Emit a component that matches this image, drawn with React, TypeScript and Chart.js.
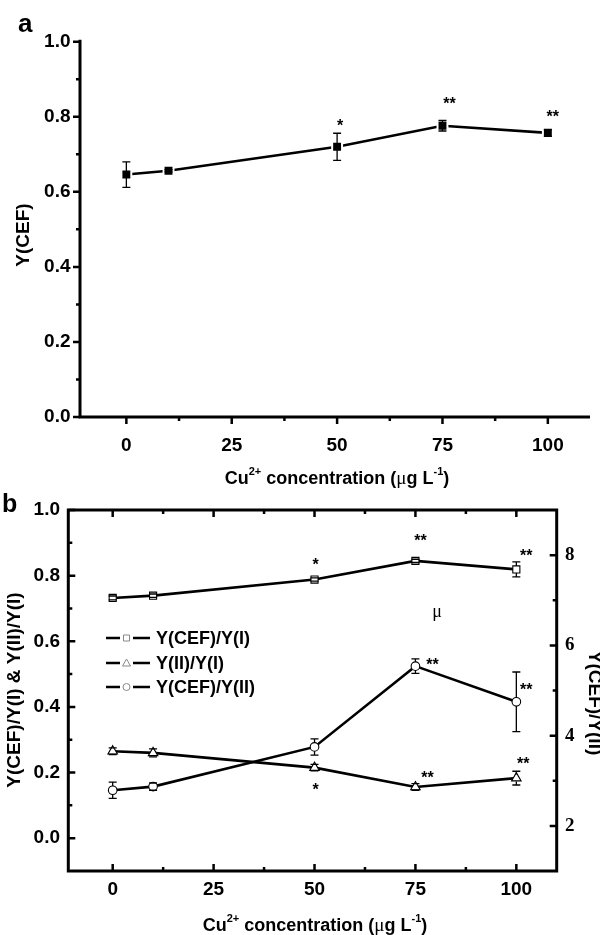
import React, { useEffect, useRef } from 'react';
import { Chart, registerables } from 'chart.js';

Chart.register(...registerables);

// ---------------- data ----------------
const concentrations = [0, 10, 50, 75, 100];

// panel a
const yCEF = [0.646, 0.656, 0.72, 0.776, 0.757];
const yCEFErr = [0.034, 0.003, 0.036, 0.014, 0.009];
const yCEFStars = ['', '', '*', '**', '**'];

// panel b
const cefOverI = [0.732, 0.739, 0.788, 0.845, 0.819];
const cefOverIErr = [0.006, 0.005, 0.005, 0.005, 0.023];
const cefOverIStars = ['', '', '*', '**', '**'];

const iiOverI = [0.265, 0.26, 0.215, 0.156, 0.183];
const iiOverIErr = [0.01, 0.012, 0.01, 0.01, 0.021];
const iiOverIStars = ['', '', '*', '**', '**'];

const cefOverII = [2.79, 2.87, 3.75, 5.54, 4.75];
const cefOverIIErr = [0.18, 0.08, 0.18, 0.16, 0.66];
const cefOverIIStars = ['', '', '', '**', '**'];

const legendLabels = ['Y(CEF)/Y(I)', 'Y(II)/Y(I)', 'Y(CEF)/Y(II)'];

// ticks
const xTickValues = [0, 25, 50, 75, 100];
const xMinorValues = [12.5, 37.5, 62.5, 87.5];
const yTicksA = [0, 0.2, 0.4, 0.6, 0.8, 1.0];
const yMinorA = [0.1, 0.3, 0.5, 0.7, 0.9];
const yTicksB = [0, 0.2, 0.4, 0.6, 0.8, 1.0];
const yMinorB = [0.1, 0.3, 0.5, 0.7, 0.9];
const y2TicksB = [2, 4, 6, 8];
const y2MinorB = [3, 5, 7];

// ---------------- styles ----------------
const SANS = '"Liberation Sans", Arial, Helvetica, sans-serif';
const SERIF = '"Liberation Serif", "Times New Roman", serif';

type Seg = { t: string; sup?: boolean; regular?: boolean };
const xTitleSegs: Seg[] = [
  { t: 'Cu' },
  { t: '2+', sup: true },
  { t: ' concentration (' },
  { t: 'μ', regular: true },
  { t: 'g L' },
  { t: '-1', sup: true },
  { t: ')' },
];

function drawSegs(ctx: CanvasRenderingContext2D, segs: Seg[], cx: number, cy: number, size: number) {
  const fontFor = (s: Seg) =>
    s.sup ? `bold ${Math.round(size * 0.62)}px ${SANS}` : s.regular ? `${size + 1}px ${SERIF}` : `bold ${size}px ${SANS}`;
  let total = 0;
  for (const s of segs) {
    ctx.font = fontFor(s);
    total += ctx.measureText(s.t).width;
  }
  let x = cx - total / 2;
  ctx.textAlign = 'left';
  ctx.textBaseline = 'alphabetic';
  const base = cy + size * 0.36;
  for (const s of segs) {
    ctx.font = fontFor(s);
    ctx.fillText(s.t, x, s.sup ? base - size * 0.5 : base);
    x += ctx.measureText(s.t).width;
  }
}

function drawRotated(ctx: CanvasRenderingContext2D, text: string, cx: number, cy: number, angle: number, font: string) {
  ctx.save();
  ctx.translate(cx, cy);
  ctx.rotate(angle);
  ctx.font = font;
  ctx.textAlign = 'center';
  ctx.textBaseline = 'middle';
  ctx.fillStyle = '#000';
  ctx.fillText(text, 0, 0);
  ctx.restore();
}

// axis frame + ticks
const framePlugin = {
  id: 'frame',
  beforeDatasetsDraw(chart: any, _a: any, opts: any) {
    const ctx: CanvasRenderingContext2D = chart.ctx;
    const { left, right, top, bottom } = chart.chartArea;
    const xs = chart.scales.x;
    const ys = chart.scales.y;
    const y2s = chart.scales.y2;
    const dir = opts.inward ? -1 : 1;
    const maj = opts.major;
    const min = opts.minor;
    ctx.save();
    ctx.strokeStyle = '#000';
    ctx.lineCap = 'butt';
    ctx.lineWidth = 3;
    ctx.beginPath();
    if (opts.box) {
      ctx.rect(left, top, right - left, bottom - top);
    } else {
      ctx.moveTo(left, top - 2);
      ctx.lineTo(left, bottom + 1.5);
      ctx.moveTo(left - 1.5, bottom);
      ctx.lineTo(right, bottom);
    }
    ctx.stroke();
    ctx.lineWidth = 2.5;
    ctx.beginPath();
    const xt = (vals: number[], len: number) => {
      vals.forEach((v) => {
        const px = xs.getPixelForValue(v);
        ctx.moveTo(px, bottom);
        ctx.lineTo(px, bottom + dir * len);
        if (opts.box) {
          ctx.moveTo(px, top);
          ctx.lineTo(px, top - dir * len);
        }
      });
    };
    const yt = (vals: number[], len: number, sc: any, side: 'l' | 'r') => {
      vals.forEach((v) => {
        const py = sc.getPixelForValue(v);
        if (side === 'l') {
          ctx.moveTo(left, py);
          ctx.lineTo(left - dir * len, py);
        } else {
          ctx.moveTo(right, py);
          ctx.lineTo(right + dir * len, py);
        }
      });
    };
    xt(xTickValues, maj);
    xt(xMinorValues, min);
    yt(opts.yMajor, maj, ys, 'l');
    yt(opts.yMinor, min, ys, 'l');
    if (opts.box && !y2s) {
      yt(opts.yMajor, maj, ys, 'r');
      yt(opts.yMinor, min, ys, 'r');
    }
    if (y2s) {
      yt(y2TicksB, maj, y2s, 'r');
      yt(y2MinorB, min, y2s, 'r');
    }
    ctx.stroke();
    ctx.restore();
  },
};

// error bars
const errorBarPlugin = {
  id: 'errorBars',
  afterDatasetsDraw(chart: any) {
    const ctx: CanvasRenderingContext2D = chart.ctx;
    chart.data.datasets.forEach((ds: any, i: number) => {
      if (!ds.errors) return;
      const meta = chart.getDatasetMeta(i);
      const sc = chart.scales[meta.yAxisID];
      const gap = ds.errGap || 0;
      ctx.save();
      ctx.strokeStyle = '#000';
      ctx.lineWidth = 1.3;
      meta.data.forEach((pt: any, j: number) => {
        const v = ds.data[j].y;
        const e = ds.errors[j];
        if (!e) return;
        const x = pt.x;
        const y = pt.y;
        const yTop = sc.getPixelForValue(v + e);
        const yBot = sc.getPixelForValue(v - e);
        ctx.beginPath();
        if (yTop < y - gap) {
          ctx.moveTo(x, yTop);
          ctx.lineTo(x, y - gap);
        }
        if (yBot > y + gap) {
          ctx.moveTo(x, y + gap);
          ctx.lineTo(x, yBot);
        }
        ctx.moveTo(x - 4, yTop);
        ctx.lineTo(x + 4, yTop);
        ctx.moveTo(x - 4, yBot);
        ctx.lineTo(x + 4, yBot);
        ctx.stroke();
      });
      ctx.restore();
    });
  },
};

// significance stars (offsets relative to the point, in px)
const starsPlugin = {
  id: 'stars',
  afterDraw(chart: any, _a: any, opts: any) {
    const ctx: CanvasRenderingContext2D = chart.ctx;
    const size = 16;
    ctx.save();
    ctx.fillStyle = '#000';
    ctx.font = `bold ${size}px ${SANS}`;
    ctx.textAlign = 'center';
    ctx.textBaseline = 'alphabetic';
    chart.data.datasets.forEach((ds: any, i: number) => {
      if (!ds.stars) return;
      const meta = chart.getDatasetMeta(i);
      const offs = opts.offsets[i];
      ds.stars.forEach((s: string, j: number) => {
        if (!s || !offs[j]) return;
        const pt = meta.data[j];
        const [dx, dy] = offs[j];
        ctx.fillText(s, pt.x + dx, pt.y + dy + size * 0.6);
      });
    });
    ctx.restore();
  },
};

const textAPlugin = {
  id: 'textA',
  afterDraw(chart: any) {
    const ctx: CanvasRenderingContext2D = chart.ctx;
    ctx.save();
    ctx.fillStyle = '#000';
    ctx.font = `bold 26px ${SANS}`;
    ctx.textAlign = 'left';
    ctx.textBaseline = 'alphabetic';
    ctx.fillText('a', 18, 32);
    drawRotated(ctx, 'Y(CEF)', 24, 235, -Math.PI / 2, `bold 19px ${SANS}`);
    drawSegs(ctx, xTitleSegs, 337, 478, 18);
    ctx.restore();
  },
};

const textBPlugin = {
  id: 'textB',
  afterDraw(chart: any) {
    const ctx: CanvasRenderingContext2D = chart.ctx;
    ctx.save();
    ctx.fillStyle = '#000';
    ctx.font = `bold 25px ${SANS}`;
    ctx.textAlign = 'left';
    ctx.textBaseline = 'alphabetic';
    ctx.fillText('b', 2, 22);
    drawRotated(ctx, 'Y(CEF)/Y(I) & Y(II)/Y(I)', 15, 200, -Math.PI / 2, `bold 19px ${SANS}`);
    drawRotated(ctx, 'Y(CEF)/Y(II)', 594, 213, Math.PI / 2, `bold 19px ${SANS}`);
    drawSegs(ctx, xTitleSegs, 315, 435, 18);
    // stray mu
    ctx.font = `18px ${SERIF}`;
    ctx.textAlign = 'center';
    ctx.textBaseline = 'middle';
    ctx.fillText('μ', 437, 122);
    // legend
    const rows = [148, 173, 197];
    const styles = ['rect', 'triangle', 'circle'];
    rows.forEach((ry, k) => {
      ctx.strokeStyle = '#000';
      ctx.lineWidth = 2.5;
      ctx.beginPath();
      ctx.moveTo(106, ry);
      ctx.lineTo(120, ry);
      ctx.moveTo(133, ry);
      ctx.lineTo(150, ry);
      ctx.stroke();
      ctx.strokeStyle = '#888';
      ctx.lineWidth = 1;
      ctx.beginPath();
      const mx = 126.5;
      if (styles[k] === 'rect') ctx.rect(mx - 3, ry - 3, 6, 6);
      else if (styles[k] === 'triangle') {
        ctx.moveTo(mx, ry - 4);
        ctx.lineTo(mx + 4, ry + 3);
        ctx.lineTo(mx - 4, ry + 3);
        ctx.closePath();
      } else ctx.arc(mx, ry, 3.5, 0, Math.PI * 2);
      ctx.stroke();
      ctx.fillStyle = '#000';
      ctx.font = `bold 18px ${SANS}`;
      ctx.textAlign = 'left';
      ctx.textBaseline = 'middle';
      ctx.fillText(legendLabels[k], 156, ry + 1);
    });
    ctx.restore();
  },
};

const tickFont = { family: SANS, size: 19, weight: 'bold' as const, lineHeight: 1 };

function setTicks(vals: number[]) {
  return (scale: any) => {
    scale.ticks = vals.map((v) => ({ value: v }));
  };
}

function toPts(ys: number[]) {
  return concentrations.map((x, i) => ({ x, y: ys[i] }));
}

export default function App() {
  const refA = useRef<HTMLCanvasElement>(null);
  const refB = useRef<HTMLCanvasElement>(null);

  useEffect(() => {
    const chartA = new Chart(refA.current as HTMLCanvasElement, {
      type: 'line',
      data: {
        datasets: [
          {
            data: toPts(yCEF),
            errors: yCEFErr,
            stars: yCEFStars,
            borderColor: '#000',
            borderWidth: 2.6,
            pointStyle: 'rect',
            pointRadius: 7,
            pointBackgroundColor: '#000',
            pointBorderColor: '#fff',
            pointBorderWidth: 2,
            tension: 0,
          } as any,
        ],
      },
      options: {
        responsive: false,
        animation: false,
        devicePixelRatio: 1,
        layout: { padding: { top: 41.7, right: 10, left: 0, bottom: 0 } },
        plugins: {
          legend: { display: false },
          tooltip: { enabled: false },
          frame: { inward: false, box: false, major: 7, minor: 4, yMajor: yTicksA, yMinor: yMinorA },
          stars: { offsets: [[null, null, [3, -25], [7, -26], [5, -20]]] },
        } as any,
        scales: {
          x: {
            type: 'linear',
            min: -11,
            max: 110,
            grid: { display: false, drawTicks: false },
            border: { display: false },
            afterBuildTicks: setTicks(xTickValues),
            afterFit: (s: any) => {
              s.height = 73;
              s.paddingLeft = 0;
              s.paddingRight = 0;
            },
            ticks: { font: tickFont, color: '#000', padding: 19, maxRotation: 0, autoSkip: false, callback: (v: any) => String(v) },
          },
          y: {
            type: 'linear',
            min: 0,
            max: 1,
            grid: { display: false, drawTicks: false },
            border: { display: false },
            afterBuildTicks: setTicks(yTicksA),
            afterFit: (s: any) => {
              s.width = 80;
              s.paddingTop = 0;
              s.paddingBottom = 0;
            },
            ticks: { font: tickFont, color: '#000', padding: 9.5, autoSkip: false, callback: (v: any) => Number(v).toFixed(1) },
          },
        },
      } as any,
      plugins: [framePlugin, errorBarPlugin, starsPlugin, textAPlugin],
    });

    const openPt = { pointBackgroundColor: '#fff', pointBorderColor: '#000', pointBorderWidth: 1.1 };
    const chartB = new Chart(refB.current as HTMLCanvasElement, {
      type: 'line',
      data: {
        datasets: [
          {
            label: legendLabels[0],
            data: toPts(cefOverI),
            errors: cefOverIErr,
            stars: cefOverIStars,
            errGap: 3.5,
            yAxisID: 'y',
            borderColor: '#000',
            borderWidth: 2.6,
            pointStyle: 'rect',
            pointRadius: 5,
            ...openPt,
          } as any,
          {
            label: legendLabels[1],
            data: toPts(iiOverI),
            errors: iiOverIErr,
            stars: iiOverIStars,
            errGap: 3.5,
            yAxisID: 'y',
            borderColor: '#000',
            borderWidth: 2.6,
            pointStyle: 'triangle',
            pointRadius: 5.5,
            ...openPt,
          } as any,
          {
            label: legendLabels[2],
            data: toPts(cefOverII),
            errors: cefOverIIErr,
            stars: cefOverIIStars,
            errGap: 4.3,
            yAxisID: 'y2',
            borderColor: '#000',
            borderWidth: 2.6,
            pointStyle: 'circle',
            pointRadius: 4.3,
            ...openPt,
          } as any,
        ],
      },
      options: {
        responsive: false,
        animation: false,
        devicePixelRatio: 1,
        layout: { padding: { top: 20, right: 0, left: 0, bottom: 0 } },
        plugins: {
          legend: { display: false },
          tooltip: { enabled: false },
          frame: { inward: true, box: true, major: 7, minor: 4, yMajor: yTicksB, yMinor: yMinorB },
          stars: {
            offsets: [
              [null, null, [1, -19], [5, -24], [10, -18]],
              [null, null, [1, 18], [12, -14], [7, -19]],
              [null, null, null, [17, -6], [10, -16]],
            ],
          },
        } as any,
        scales: {
          x: {
            type: 'linear',
            min: -11,
            max: 110,
            grid: { display: false, drawTicks: false },
            border: { display: false },
            afterBuildTicks: setTicks(xTickValues),
            afterFit: (s: any) => {
              s.height = 64;
              s.paddingLeft = 0;
              s.paddingRight = 0;
            },
            ticks: { font: tickFont, color: '#000', padding: 9.5, maxRotation: 0, autoSkip: false, callback: (v: any) => String(v) },
          },
          y: {
            type: 'linear',
            position: 'left',
            min: -0.1,
            max: 1.0,
            grid: { display: false, drawTicks: false },
            border: { display: false },
            afterBuildTicks: setTicks(yTicksB),
            afterFit: (s: any) => {
              s.width = 68.3;
              s.paddingTop = 0;
              s.paddingBottom = 0;
            },
            ticks: { font: tickFont, color: '#000', padding: 8.3, autoSkip: false, callback: (v: any) => Number(v).toFixed(1) },
          },
          y2: {
            type: 'linear',
            position: 'right',
            min: 1,
            max: 9,
            grid: { display: false, drawTicks: false },
            border: { display: false },
            afterBuildTicks: setTicks(y2TicksB),
            afterFit: (s: any) => {
              s.width = 43.3;
              s.paddingTop = 0;
              s.paddingBottom = 0;
            },
            ticks: {
              font: { family: SERIF, size: 19, weight: 'bold', lineHeight: 1 },
              color: '#000',
              padding: 8.3,
              autoSkip: false,
              callback: (v: any) => String(v),
            },
          },
        },
      } as any,
      plugins: [framePlugin, errorBarPlugin, starsPlugin, textBPlugin],
    });

    return () => {
      chartA.destroy();
      chartB.destroy();
    };
  }, []);

  return (
    <div style={{ position: 'absolute', left: 0, top: 0, width: 600, height: 935, background: '#fff' }}>
      <canvas ref={refA} width={600} height={490} style={{ position: 'absolute', left: 0, top: 0 }} />
      <canvas ref={refB} width={600} height={445} style={{ position: 'absolute', left: 0, top: 490 }} />
    </div>
  );
}
